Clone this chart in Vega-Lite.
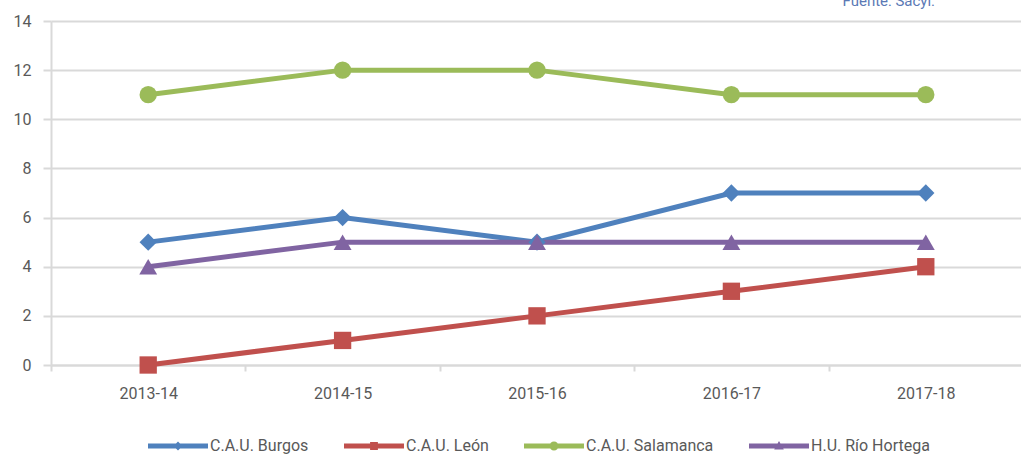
{
  "$schema": "https://vega.github.io/schema/vega-lite/v6.json",
  "autosize": "none",
  "width": 972,
  "height": 344,
  "padding": {"left": 51, "top": 21, "right": 0, "bottom": 92},
  "background": "white",
  "title": {
    "text": "Fuente: Sacyl.",
    "anchor": "end",
    "frame": "group",
    "orient": "top",
    "baseline": "alphabetic",
    "offset": -8,
    "dx": -88,
    "fontSize": 15,
    "fontWeight": "normal",
    "color": "#5b79b5",
    "font": "Roboto"
  },
  "data": {
    "values": [
      {"curso": "2013-14", "centro": "C.A.U. Burgos", "valor": 5},
      {"curso": "2014-15", "centro": "C.A.U. Burgos", "valor": 6},
      {"curso": "2015-16", "centro": "C.A.U. Burgos", "valor": 5},
      {"curso": "2016-17", "centro": "C.A.U. Burgos", "valor": 7},
      {"curso": "2017-18", "centro": "C.A.U. Burgos", "valor": 7},
      {"curso": "2013-14", "centro": "C.A.U. León", "valor": 0},
      {"curso": "2014-15", "centro": "C.A.U. León", "valor": 1},
      {"curso": "2015-16", "centro": "C.A.U. León", "valor": 2},
      {"curso": "2016-17", "centro": "C.A.U. León", "valor": 3},
      {"curso": "2017-18", "centro": "C.A.U. León", "valor": 4},
      {"curso": "2013-14", "centro": "C.A.U. Salamanca", "valor": 11},
      {"curso": "2014-15", "centro": "C.A.U. Salamanca", "valor": 12},
      {"curso": "2015-16", "centro": "C.A.U. Salamanca", "valor": 12},
      {"curso": "2016-17", "centro": "C.A.U. Salamanca", "valor": 11},
      {"curso": "2017-18", "centro": "C.A.U. Salamanca", "valor": 11},
      {"curso": "2013-14", "centro": "H.U. Río Hortega", "valor": 4},
      {"curso": "2014-15", "centro": "H.U. Río Hortega", "valor": 5},
      {"curso": "2015-16", "centro": "H.U. Río Hortega", "valor": 5},
      {"curso": "2016-17", "centro": "H.U. Río Hortega", "valor": 5},
      {"curso": "2017-18", "centro": "H.U. Río Hortega", "valor": 5}
    ]
  },
  "encoding": {
    "x": {
      "field": "curso",
      "type": "ordinal",
      "scale": {"paddingInner": 0, "paddingOuter": 0},
      "axis": {
        "title": null,
        "labelAngle": 0,
        "bandPosition": 0,
        "tickBand": "extent",
        "ticks": true,
        "tickSize": 6,
        "tickColor": "#d9d9d9",
        "tickWidth": 2,
        "domainColor": "#d9d9d9",
        "domainWidth": 2,
        "labelPadding": 14,
        "grid": false
      }
    },
    "y": {
      "field": "valor",
      "type": "quantitative",
      "scale": {"domain": [0, 14], "nice": false},
      "axis": {
        "title": null,
        "values": [0, 2, 4, 6, 8, 10, 12, 14],
        "grid": true,
        "gridColor": "#d9d9d9",
        "gridWidth": 2,
        "tickColor": "#d9d9d9",
        "tickWidth": 2,
        "tickSize": 8,
        "domainColor": "#d9d9d9",
        "domainWidth": 2,
        "labelPadding": 12
      }
    },
    "color": {
      "field": "centro",
      "type": "nominal",
      "title": null,
      "scale": {
        "domain": ["C.A.U. Burgos", "C.A.U. León", "C.A.U. Salamanca", "H.U. Río Hortega"],
        "range": ["#4f81bd", "#c0504d", "#9bbb59", "#8064a2"]
      },
      "legend": {
        "orient": "none",
        "direction": "horizontal",
        "legendX": 97,
        "legendY": 395,
        "columnPadding": 35,
        "symbolSize": 3600,
        "symbolStrokeWidth": 0,
        "symbolOpacity": 1,
        "labelOffset": 2,
        "labelFontSize": 16,
        "labelColor": "#595959",
        "labelFont": "Roboto",
        "encode": {
          "symbols": {"update": {"opacity": {"value": 1}, "fillOpacity": {"value": 1}}}
        }
      }
    }
  },
  "layer": [
    {
      "mark": {"type": "line", "strokeWidth": 5},
      "encoding": {}
    },
    {
      "mark": {"type": "point", "filled": true, "opacity": 0},
      "encoding": {
        "shape": {
          "field": "centro",
          "type": "nominal",
          "title": null,
          "scale": {
            "domain": ["C.A.U. Burgos", "C.A.U. León", "C.A.U. Salamanca", "H.U. Río Hortega"],
            "range": [
              "M-1,-0.08H1V0.08H-1Z M-0.15,0L0,-0.15L0.15,0L0,0.15Z",
              "M-1,-0.08H1V0.08H-1Z M-0.13,-0.13H0.13V0.13H-0.13Z",
              "M-1,-0.08H1V0.08H-1Z M-0.15,0A0.15,0.15 0 1,1 0.15,0A0.15,0.15 0 1,1 -0.15,0Z",
              "M-1,-0.08H1V0.08H-1Z M0,-0.17L0.16,0.12L-0.16,0.12Z"
            ]
          }
        }
      }
    },
    {
      "transform": [{"filter": "datum.centro === 'C.A.U. Burgos'"}],
      "mark": {"type": "point", "shape": "diamond", "filled": true, "opacity": 1, "size": 300}
    },
    {
      "transform": [{"filter": "datum.centro === 'C.A.U. León'"}],
      "mark": {"type": "point", "shape": "square", "filled": true, "opacity": 1, "size": 300}
    },
    {
      "transform": [{"filter": "datum.centro === 'C.A.U. Salamanca'"}],
      "mark": {"type": "point", "shape": "circle", "filled": true, "opacity": 1, "size": 300}
    },
    {
      "transform": [{"filter": "datum.centro === 'H.U. Río Hortega'"}],
      "mark": {"type": "point", "shape": "triangle-up", "filled": true, "opacity": 1, "size": 320}
    }
  ],
  "config": {
    "view": {"stroke": null},
    "axis": {
      "labelFont": "Roboto",
      "labelFontSize": 16,
      "labelColor": "#595959"
    }
  }
}
